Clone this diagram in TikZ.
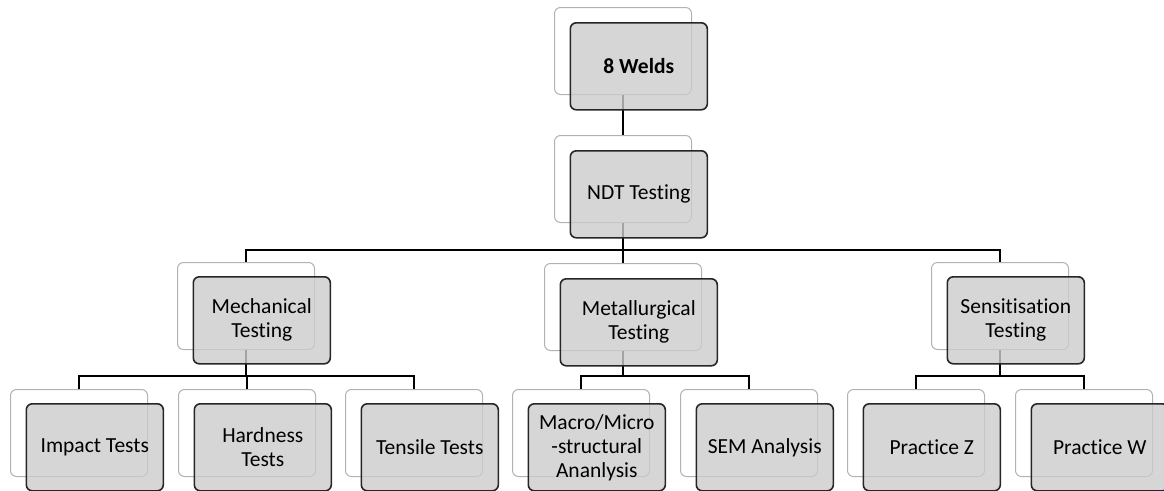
\documentclass[tikz,border=0pt]{standalone}
\usepackage{fontspec}
\setmainfont[Ligatures=NoCommon]{Carlito}
\begin{document}
\begin{tikzpicture}[x=1pt,y=1pt,
  backbox/.style={draw=gray!60, line width=1pt, fill=white, rounded corners=6pt,
    minimum width=137pt, minimum height=87pt, inner sep=0pt, anchor=north west},
  frontbox/.style={draw=black!85, line width=1.6pt, fill=gray!40, fill opacity=0.8,
    text opacity=1, text=black, rounded corners=6pt, minimum width=137pt,
    minimum height=87pt, inner sep=0pt, anchor=north west, align=center,
    font=\fontsize{21.5}{24}\selectfont},
  conn/.style={draw=black, line width=2.4pt}]
\useasboundingbox (0,0) rectangle (1164,-490);
% back boxes
\node[backbox] (weldsb) at (554,-7) {};
\node[backbox] (ndtb) at (554,-135) {};
\node[backbox] (mechb) at (177,-262) {};
\node[backbox, minimum width=157pt] (metalb) at (544,-263) {};
\node[backbox] (sensb) at (931,-262) {};
\node[backbox] (impb) at (10,-389) {};
\node[backbox] (hardb) at (178,-389) {};
\node[backbox] (tensb) at (345,-389) {};
\node[backbox] (macrob) at (512,-389) {};
\node[backbox] (semb) at (680,-389) {};
\node[backbox] (pzb) at (847,-389) {};
\node[backbox] (pwb) at (1015,-389) {};
% bus levels
\coordinate (bus1) at (0,-250);
\coordinate (bus2) at (0,-376);
% connectors
\draw[conn] (weldsb.south) -- (ndtb.north);
\draw[conn] (ndtb.south) -- (ndtb.south |- bus1);
\draw[conn] (mechb.north) |- (ndtb.south |- bus1);
\draw[conn] (metalb.north) -- (metalb.north |- bus1);
\draw[conn] (sensb.north) |- (ndtb.south |- bus1);
\draw[conn] (mechb.south) -- (mechb.south |- bus2);
\draw[conn] (impb.north) |- (mechb.south |- bus2);
\draw[conn] (hardb.north) -- (hardb.north |- bus2);
\draw[conn] (tensb.north) |- (mechb.south |- bus2);
\draw[conn] (metalb.south) -- (metalb.south |- bus2);
\draw[conn] (macrob.north) |- (metalb.south |- bus2);
\draw[conn] (semb.north) |- (metalb.south |- bus2);
\draw[conn] (sensb.south) -- (sensb.south |- bus2);
\draw[conn] (pzb.north) |- (sensb.south |- bus2);
\draw[conn] (pwb.north) |- (sensb.south |- bus2);
% front boxes
\node[frontbox, font=\fontsize{21.5}{24}\selectfont\bfseries] (weldsf) at (569.5,-22) {8 Welds};
\node[frontbox] (ndtf) at (569.5,-150) {NDT Testing};
\node[frontbox] (mechf) at (192.5,-276) {Mechanical\\Testing};
\node[frontbox, minimum width=157pt] (metalf) at (559.5,-278) {Metallurgical\\Testing};
\node[frontbox] (sensf) at (946.5,-276) {Sensitisation\\Testing};
\node[frontbox] (impf) at (25.5,-403) {Impact Tests};
\node[frontbox] (hardf) at (193.5,-403) {Hardness\\Tests};
\node[frontbox] (tensf) at (360.5,-403) {Tensile Tests};
\node[frontbox] (macrof) at (527.5,-403) {Macro/Micro\\-structural\\Ananlysis};
\node[frontbox] (semf) at (695.5,-403) {SEM Analysis};
\node[frontbox] (pzf) at (862.5,-403) {Practice Z};
\node[frontbox] (pwf) at (1030.5,-403) {Practice W};
\end{tikzpicture}
\end{document}
